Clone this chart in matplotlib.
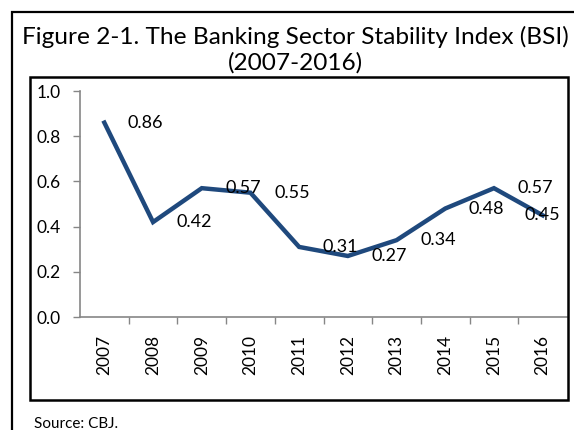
import matplotlib
matplotlib.use("Agg")
import matplotlib.pyplot as plt
from matplotlib.patches import Rectangle

years = ["2007", "2008", "2009", "2010", "2011", "2012", "2013", "2014", "2015", "2016"]
bsi = [0.86, 0.42, 0.57, 0.55, 0.31, 0.27, 0.34, 0.48, 0.57, 0.45]
yticks = [0.0, 0.2, 0.4, 0.6, 0.8, 1.0]

plt.rcParams['font.family'] = ['Lato', 'DejaVu Sans']

W, H = 574, 430
fig = plt.figure(figsize=(W / 100, H / 100), dpi=100)

def fx(px):
    return px / W

def fy(py):
    return 1 - py / H

# outer frame
fig.add_artist(Rectangle((fx(12), fy(440)), fx(576) - fx(12), fy(12) - fy(440),
                         transform=fig.transFigure, fill=False, edgecolor='black', lw=1.6, clip_on=False))
# inner frame
fig.add_artist(Rectangle((fx(30), fy(400)), fx(568) - fx(30), fy(77) - fy(400),
                         transform=fig.transFigure, fill=False, edgecolor='black', lw=1.8, clip_on=False))

fig.text(fx(295), fy(37), "Figure 2-1. The Banking Sector Stability Index (BSI)",
         ha='center', va='center', fontsize=17.6)
fig.text(fx(295), fy(63), "(2007-2016)", ha='center', va='center', fontsize=17.6)
fig.text(fx(34), fy(424), "Source: CBJ.", ha='left', va='center', fontsize=11)

ax = fig.add_axes([fx(80), fy(317), fx(567) - fx(80), fy(91) - fy(317)])
x = list(range(len(years)))
ax.plot(x, bsi, color='#1F497D', lw=3.2, solid_joinstyle='miter')
ax.set_xlim(-0.5, len(years) - 0.5)
ax.set_ylim(0, 1.0)
ax.set_yticks(yticks)
ax.set_yticklabels([f"{v:.1f}" for v in yticks], fontsize=12.5)
ax.set_xticks(x)
ax.set_xticklabels(years, rotation=90, fontsize=12.5)
ax.set_xticks([i - 0.5 for i in range(1, len(years))], minor=True)
ax.tick_params(axis='x', which='major', length=0, pad=13)
ax.tick_params(axis='x', which='minor', length=5, color='#868686', width=1, direction='out')
ax.tick_params(axis='y', length=5, color='#868686', width=1, direction='out', pad=9)
for s in ['top', 'right']:
    ax.spines[s].set_visible(False)
for s in ['left', 'bottom']:
    ax.spines[s].set_color('#868686')
    ax.spines[s].set_linewidth(1.2)

for i, v in enumerate(bsi):
    dx = 0.85 if i < len(bsi) - 1 else 0.0
    ax.text(i + dx, v, f"{v:.2f}", ha='center', va='center', fontsize=13)

fig.savefig("out.png", dpi=100)
